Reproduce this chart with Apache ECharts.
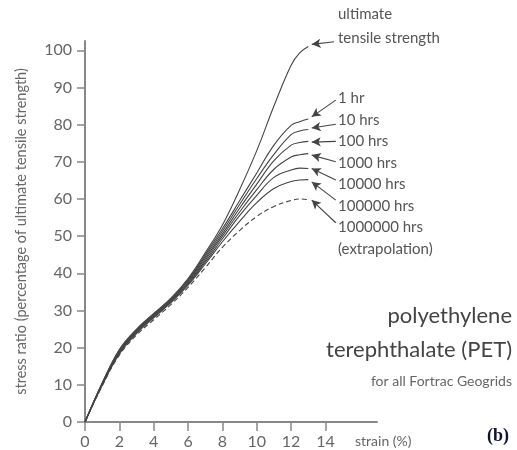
<!DOCTYPE html>
<html>
<head>
<meta charset="utf-8">
<script src="https://cdn.jsdelivr.net/npm/echarts@6/dist/echarts.min.js"></script>
<style>
  html, body { margin: 0; padding: 0; background: #fff; }
  #chart { width: 517px; height: 450px; }
</style>
</head>
<body>
<div id="chart"></div>
<script>
// strain (%) sample points, shared by all curves
const strain = [0, 1, 2, 3, 4, 5, 6, 7, 8, 9, 10, 11, 12, 12.5, 13];

// stress ratio (% of ultimate tensile strength)
const ultimate = [0, 10.5, 19.5, 25, 29.2, 33.3, 38.6, 45.5, 53, 62.5, 73, 85, 96, 99.3, 101];
const hr1      = [0, 10.4, 19.3, 24.8, 29, 33.1, 38.3, 45, 52, 59.5, 67, 74.5, 79.8, 80.8, 81.5];
const hr10     = [0, 10.3, 19.1, 24.6, 28.8, 32.9, 38, 44.5, 51.3, 58.5, 65.5, 72, 77.3, 78.3, 78.7];
const hr100    = [0, 10.2, 18.9, 24.4, 28.6, 32.7, 37.7, 44, 50.6, 57.5, 64, 70.3, 74.5, 75.2, 75.5];
const hr1000   = [0, 10.1, 18.7, 24.2, 28.4, 32.5, 37.4, 43.5, 50, 56.5, 62.5, 68, 71.3, 71.9, 72.2];
const hr10000  = [0, 10, 18.5, 24, 28.2, 32.3, 37.1, 43, 49.3, 55.5, 61, 65.8, 67.8, 68.3, 68.2];
const hr100000 = [0, 9.9, 18.3, 23.8, 28, 32.1, 36.8, 42.5, 48.5, 54, 59, 62.8, 64.7, 65.1, 65.2];
const hr1000000 = [0, 9.7, 18, 23.4, 27.5, 31.6, 36.2, 41.5, 47, 51.5, 55.3, 58, 59.6, 60, 59.8];

const xTicks = [0, 2, 4, 6, 8, 10, 12, 14];
const yTicks = [0, 10, 20, 30, 40, 50, 60, 70, 80, 90, 100];

// arrow [tail, head] in data units
const arrows = [
  { tail: [14.5, 102.3], head: [13.2, 101.6] },
  { tail: [14.6, 86.6], head: [13.2, 82.1] },
  { tail: [14.6, 80.1], head: [13.2, 79.1] },
  { tail: [14.6, 75.5], head: [13.2, 75.3] },
  { tail: [14.6, 70.0], head: [13.2, 71.8] },
  { tail: [14.6, 65.1], head: [13.2, 68.2] },
  { tail: [14.6, 59.7], head: [13.2, 64.6] },
  { tail: [14.6, 53.6], head: [13.2, 59.7] }
];
const curveLabels = ['1 hr', '10 hrs', '100 hrs', '1000 hrs', '10000 hrs', '100000 hrs', '1000000 hrs', '(extrapolation)'];

const curves = [ultimate, hr1, hr10, hr100, hr1000, hr10000, hr100000, hr1000000];

const ink = '#444';
const font = 'Lato';

const chart = echarts.init(document.getElementById('chart'));

const series = curves.map((vals, i) => ({
  type: 'line',
  smooth: 0.4,
  symbol: 'none',
  data: strain.map((x, j) => [x, vals[j]]),
  lineStyle: {
    color: ink,
    width: 1.1,
    type: i === curves.length - 1 ? [5, 3] : 'solid'
  },
  markLine: {
    silent: true,
    symbol: ['none', 'arrow'],
    symbolSize: [7, 9],
    label: { show: false },
    lineStyle: { color: ink, width: 1.1, type: 'solid' },
    data: [[{ coord: arrows[i].tail }, { coord: arrows[i].head }]]
  }
}));

const labelColor = '#555';
const textGraphics = [];
textGraphics.push({ type: 'text', left: 338, top: 7, style: { text: 'ultimate', font: '15px ' + font, fill: labelColor } });
textGraphics.push({ type: 'text', left: 338, top: 31, style: { text: 'tensile strength', font: '15px ' + font, fill: labelColor } });
curveLabels.forEach((t, i) => {
  textGraphics.push({ type: 'text', left: 338, top: 91 + i * 21.5, style: { text: t, font: '15px ' + font, fill: labelColor } });
});
textGraphics.push({ type: 'text', right: 5, top: 305, style: { text: 'polyethylene', font: '22px ' + font, fill: '#444', align: 'right' } });
textGraphics.push({ type: 'text', right: 5, top: 339, style: { text: 'terephthalate (PET)', font: '22px ' + font, fill: '#444', align: 'right' } });
textGraphics.push({ type: 'text', right: 5, top: 374, style: { text: 'for all Fortrac Geogrids', font: '14px ' + font, fill: '#666', align: 'right' } });
textGraphics.push({ type: 'text', left: 355, top: 434, style: { text: 'strain (%)', font: '14px ' + font, fill: '#666' } });
textGraphics.push({ type: 'text', left: 487, top: 427, style: { text: '(b)', font: 'bold 18px "Liberation Serif"', fill: '#111133' } });

chart.setOption({
  animation: false,
  backgroundColor: '#fff',
  grid: { left: 85, top: 41, right: 140, bottom: 28 },
  xAxis: {
    type: 'value',
    min: 0,
    max: 17,
    interval: 2,
    axisLine: { lineStyle: { color: '#888', width: 2 } },
    axisTick: { show: true, length: 9, customValues: xTicks, lineStyle: { color: '#888', width: 1.5 } },
    axisLabel: { customValues: xTicks, margin: 12, fontSize: 16, color: '#666', fontFamily: font },
    splitLine: { show: false }
  },
  yAxis: {
    type: 'value',
    min: 0,
    max: 102.5,
    interval: 10,
    name: 'stress ratio (percentage of ultimate tensile strength)',
    nameLocation: 'middle',
    nameGap: 56,
    nameTextStyle: { fontSize: 14.5, color: '#666', fontFamily: font },
    axisLine: { show: true, lineStyle: { color: '#888', width: 2 } },
    axisTick: { show: true, length: 8, customValues: yTicks, lineStyle: { color: '#888', width: 1.5 } },
    axisLabel: { customValues: yTicks, margin: 13, fontSize: 16, color: '#666', fontFamily: font },
    splitLine: { show: false }
  },
  graphic: textGraphics,
  series: series
});
</script>
</body>
</html>
